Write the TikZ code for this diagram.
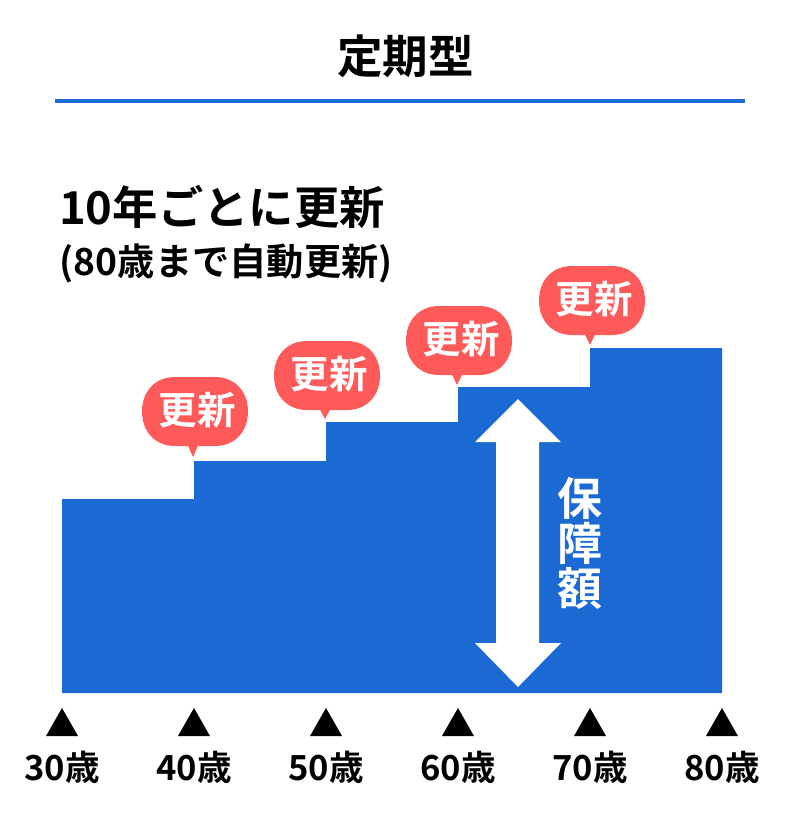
\documentclass[tikz,border=0pt]{standalone}
\usepackage{fontspec}
\setmainfont{Noto Sans CJK JP}[BoldFont={Noto Sans CJK JP Bold}]
\definecolor{hoshoblue}{HTML}{1B69D3}
\definecolor{bubblered}{HTML}{FF5A5A}
\tikzset{
	bubble/.style={text=white,inner sep=0pt,font=\bfseries\fontsize{32.8}{32.8}\selectfont},
	agelabel/.style={inner sep=0pt,font=\bfseries\fontsize{29.5}{29.5}\selectfont},
}
\begin{document}
\begin{tikzpicture}[x=0.3mm,y=-0.3mm]
	\useasboundingbox (0,0) rectangle (800,813);
	\node[inner sep=0pt,font=\bfseries\fontsize{38.9}{38.9}\selectfont] (title) at (405.5,56.5) {定期型};
	\draw[hoshoblue,line width=3.4pt] (55,101) -- (745,101);
	\node[anchor=west,inner sep=0pt,font=\bfseries\fontsize{38.7}{38.7}\selectfont] (headline) at (59,207) {10年ごとに更新};
	\node[anchor=west,inner sep=0pt,font=\bfseries\fontsize{31.8}{31.8}\selectfont] (subline) at (59.5,263.5) {(80歳まで自動更新)};
	\fill[hoshoblue] (62,693) |- (194,499) |- (326,461) |- (458,422) |- (590,387) |- (722,348) -- (722,693) -- cycle;
	\fill[white] (518,399) -- (561,442) -- (539,442) -- (539,643) -- (561,643) -- (518,687) -- (475,643) -- (496,643) -- (496,442) -- (475,442) -- cycle;
	\node[text=white,align=center,inner sep=0pt,font=\bfseries\fontsize{38.4}{38.4}\selectfont] (amount) at (580,543.5) {保\\障\\額};
	\foreach \n/\cx/\cy/\tx/\ty in {a/195/411.5/193/457,b/327/375.5/325/419,c/459/340.5/457/385,d/592/300.5/590/345}{
		\fill[bubblered,shift={(\cx,\cy)}] (-53,0) .. controls (-53,-20) and (-40,-34.5) .. (-20,-34.5) -- (20,-34.5) .. controls (40,-34.5) and (53,-20) .. (53,0) .. controls (53,20) and (40,34.5) .. (20,34.5) -- (-20,34.5) .. controls (-40,34.5) and (-53,20) .. (-53,0) -- cycle;
		\node[bubble] (\n) at (\cx+2,\cy-1.5) {更新};
		\coordinate (\n tip) at (\tx,\ty);
		\fill[bubblered] (\tx-5.5,\cy+33) -- (\n tip) -- (\tx+5.5,\cy+33) -- cycle;
	}
	\foreach \x/\age in {62/30,194/40,326/50,458/60,590/70,722/80}{
		\fill (\x,708) -- (\x+16,736) -- (\x-16,736) -- cycle;
		\node[agelabel] (age\age) at (\x,767) {\age 歳};
	}
\end{tikzpicture}
\end{document}
